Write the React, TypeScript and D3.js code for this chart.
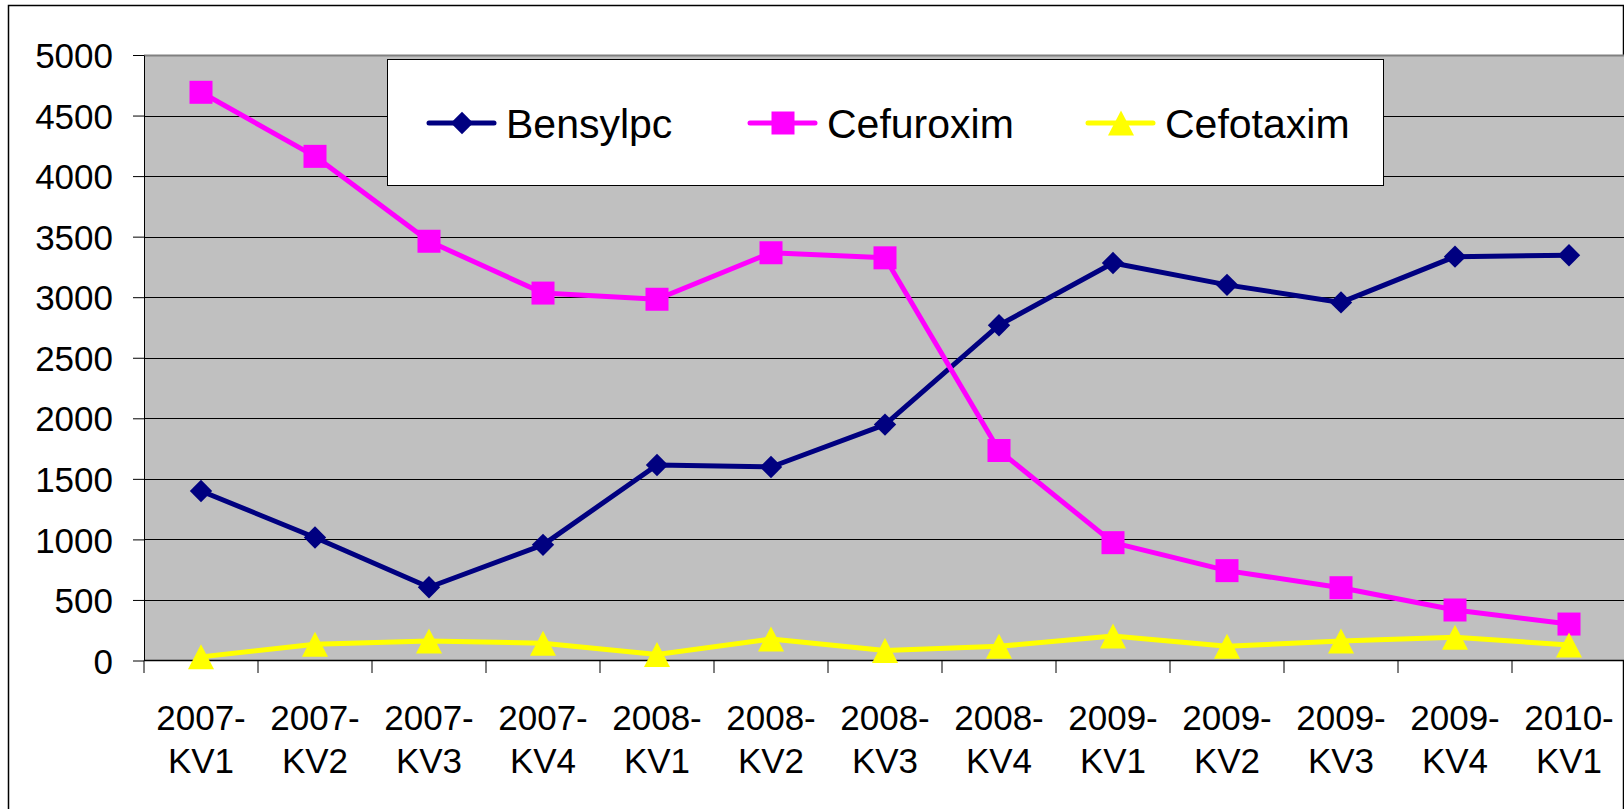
import * as d3 from 'd3';
import { useEffect, useRef } from 'react';

const categories = [
  '2007-KV1', '2007-KV2', '2007-KV3', '2007-KV4',
  '2008-KV1', '2008-KV2', '2008-KV3', '2008-KV4',
  '2009-KV1', '2009-KV2', '2009-KV3', '2009-KV4',
  '2010-KV1',
];

const bensylpc = [1400, 1016, 605, 955, 1614, 1598, 1948, 2769, 3282, 3102, 2957, 3335, 3346];
const cefuroxim = [4692, 4163, 3462, 3034, 2983, 3367, 3325, 1734, 973, 742, 601, 417, 301];
const cefotaxim = [30, 134, 161, 143, 49, 177, 83, 117, 202, 117, 161, 192, 128];

const yTicks = [0, 500, 1000, 1500, 2000, 2500, 3000, 3500, 4000, 4500, 5000];

const seriesNames = ['Bensylpc', 'Cefuroxim', 'Cefotaxim'];
const seriesColors = ['#000080', '#FF00FF', '#FFFF00'];

// triangle centred on its bounding box, 26 wide x 25 tall
const triangle = {
  draw(ctx: any) {
    ctx.moveTo(0, -12.5);
    ctx.lineTo(13, 12.5);
    ctx.lineTo(-13, 12.5);
    ctx.closePath();
  },
};
const seriesShapes: any[] = [d3.symbolDiamond2, d3.symbolSquare, triangle];
const symSizes = [320, 529, 1];

const W = 1624;
const H = 809;
const FONT = '"Liberation Sans", Arial, sans-serif';

const Chart = () => {
  const ref = useRef<SVGSVGElement>(null);

  useEffect(() => {
    const svg = d3.select(ref.current);
    svg.selectAll('*').remove();

    const left = 144;
    const top = 55;
    const bottom = 660.5;
    const bandW = 114;
    const right = left + bandW * categories.length;

    // outer frame
    svg.append('rect')
      .attr('x', 8.5).attr('y', 5.5)
      .attr('width', W - 9).attr('height', H + 10)
      .attr('fill', '#fff').attr('stroke', '#000').attr('stroke-width', 1.5);

    const x = d3.scaleBand().domain(categories).range([left, right]).padding(0);
    const y = d3.scaleLinear().domain([0, 5000]).range([bottom, top]);

    // plot area
    svg.append('rect')
      .attr('x', left).attr('y', top)
      .attr('width', right - left).attr('height', bottom - top)
      .attr('fill', '#C0C0C0');
    svg.append('line')
      .attr('x1', left).attr('x2', right).attr('y1', top + 0.5).attr('y2', top + 0.5)
      .attr('stroke', '#808080').attr('stroke-width', 2);

    // gridlines
    svg.append('g').selectAll('line')
      .data(yTicks.filter(t => t > 0 && t < 5000))
      .enter().append('line')
      .attr('x1', left).attr('x2', right)
      .attr('y1', d => Math.round(y(d)) + 0.5).attr('y2', d => Math.round(y(d)) + 0.5)
      .attr('stroke', '#000').attr('stroke-width', 1);

    // y axis
    const yAxis = svg.append('g')
      .attr('transform', `translate(${left},0)`)
      .call(d3.axisLeft(y).tickValues(yTicks).tickFormat(d3.format('d')).tickSize(11).tickPadding(20).tickSizeOuter(0));
    yAxis.select('.domain').attr('stroke', '#000');
    yAxis.selectAll('text').attr('font-size', 35).attr('font-family', FONT).attr('fill', '#000').attr('dy', '0.36em');

    // x axis
    svg.append('line')
      .attr('x1', left).attr('x2', right).attr('y1', bottom).attr('y2', bottom)
      .attr('stroke', '#000').attr('stroke-width', 1.5);
    svg.append('g').selectAll('line')
      .data(d3.range(categories.length + 1))
      .enter().append('line')
      .attr('x1', i => left + i * x.step()).attr('x2', i => left + i * x.step())
      .attr('y1', bottom).attr('y2', bottom + 12.5)
      .attr('stroke', '#000');

    const labels = svg.append('g');
    categories.forEach(c => {
      const [a, b] = c.split('-');
      const cx = x(c)! + x.bandwidth() / 2;
      const t = labels.append('text')
        .attr('font-size', 35).attr('font-family', FONT)
        .attr('text-anchor', 'middle');
      t.append('tspan').attr('x', cx).attr('y', 730).text(a + '-');
      t.append('tspan').attr('x', cx).attr('y', 773).text(b);
    });

    // series
    const allSeries = [bensylpc, cefuroxim, cefotaxim];
    allSeries.forEach((vals, si) => {
      const line = d3.line<number>()
        .x((_, i) => x(categories[i])! + x.bandwidth() / 2)
        .y(d => y(d));
      svg.append('path')
        .attr('d', line(vals)!)
        .attr('fill', 'none')
        .attr('stroke', seriesColors[si])
        .attr('stroke-width', 5)
        .attr('stroke-linejoin', 'round');
      svg.append('g').selectAll('path')
        .data(vals)
        .enter().append('path')
        .attr('d', d3.symbol().type(seriesShapes[si]).size(symSizes[si])()!)
        .attr('transform', (d, i) => `translate(${x(categories[i])! + x.bandwidth() / 2},${y(d)})`)
        .attr('fill', seriesColors[si]);
    });

    // legend
    const lg = svg.append('g');
    lg.append('rect')
      .attr('x', 387.5).attr('y', 59.5).attr('width', 996).attr('height', 126)
      .attr('fill', '#fff').attr('stroke', '#000').attr('stroke-width', 1);
    const legendX = [427, 748, 1086];
    const cy = 123;
    seriesNames.forEach((name, si) => {
      const lx = legendX[si];
      lg.append('line')
        .attr('x1', lx + 2).attr('x2', lx + 67).attr('y1', cy).attr('y2', cy)
        .attr('stroke', seriesColors[si]).attr('stroke-width', 5).attr('stroke-linecap', 'round');
      lg.append('path')
        .attr('d', d3.symbol().type(seriesShapes[si]).size(symSizes[si])()!)
        .attr('transform', `translate(${lx + 35},${cy})`)
        .attr('fill', seriesColors[si]);
      lg.append('text')
        .attr('x', lx + 79).attr('y', cy)
        .attr('dy', '0.36em')
        .attr('font-size', 41).attr('font-family', FONT)
        .text(name);
    });
  }, []);

  return (
    <svg ref={ref} width={W} height={H}
      style={{ position: 'absolute', left: 0, top: 0, display: 'block' }} />
  );
};

export default function App() {
  return <Chart />;
}
